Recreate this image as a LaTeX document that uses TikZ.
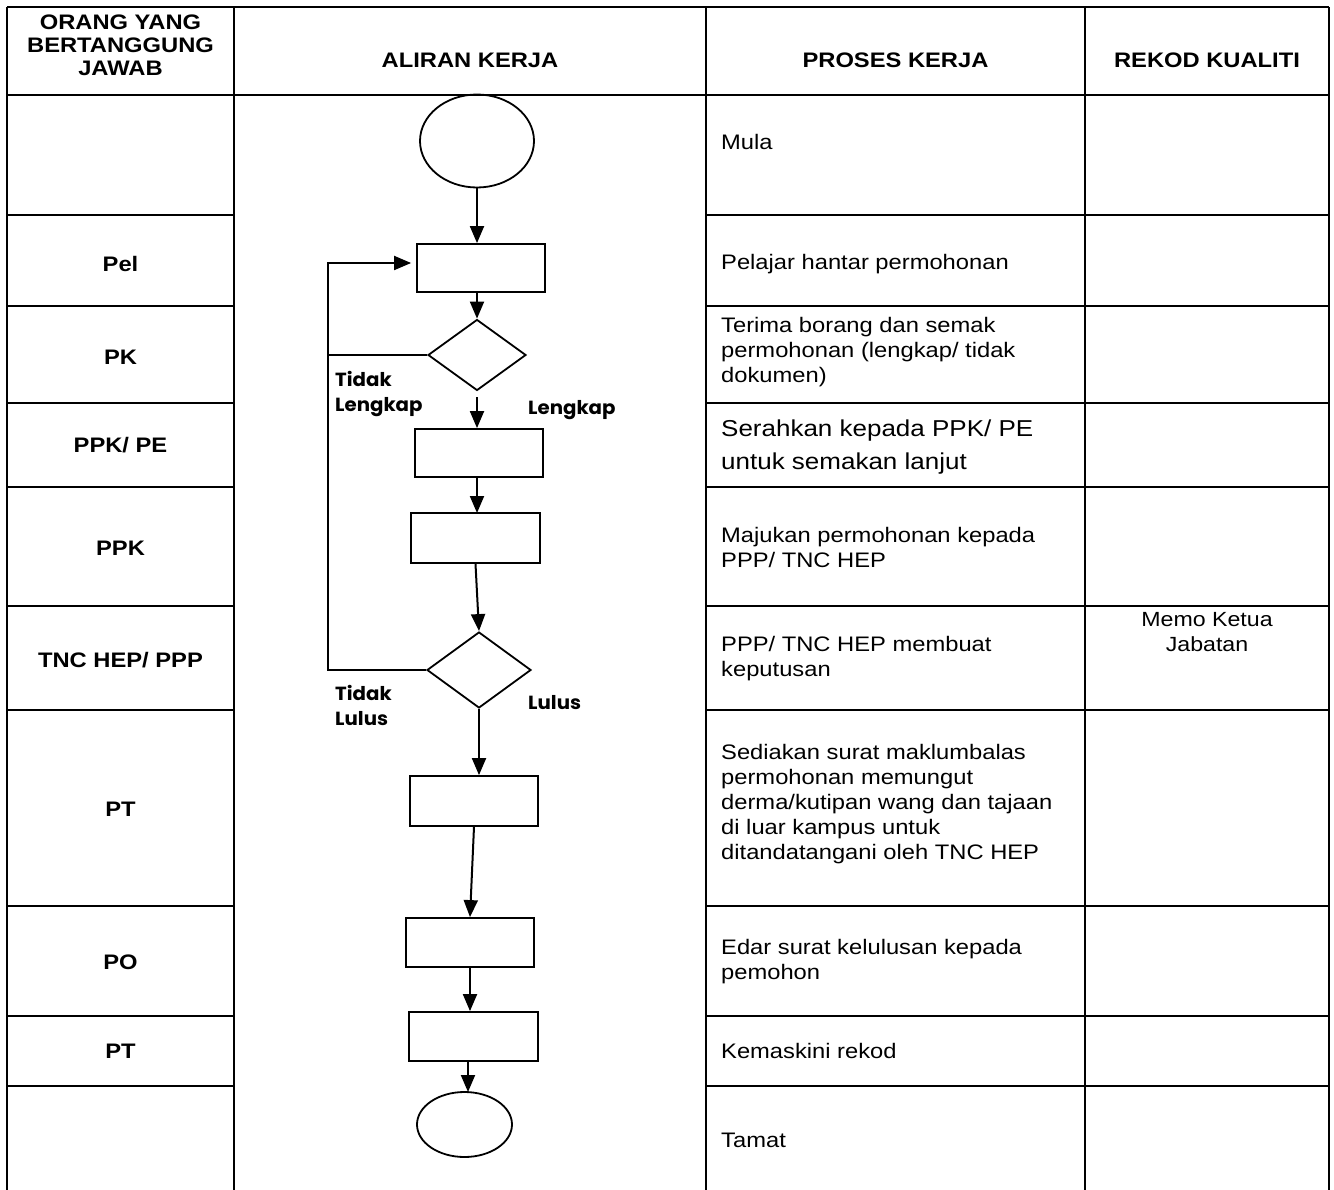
\documentclass[tikz,border=0pt]{standalone}
\usepackage{fontspec}
\setmainfont{Liberation Sans}[FakeStretch=1.13]
\newfontfamily\lblfont{Poppins}[FakeStretch=1.04]
\usetikzlibrary{shapes.geometric,arrows.meta}
\tikzset{
  tline/.style={line width=2.6pt},
  flow/.style={line width=2pt},
  arr/.style={line width=2pt,-{Triangle[width=14pt,length=17pt]}},
  fbox/.style={draw,rectangle,line width=1.8pt,minimum width=128pt,minimum height=48pt,inner sep=0pt},
  fdia/.style={draw,diamond,line width=1.8pt,inner sep=0pt},
  fell/.style={draw,ellipse,line width=1.8pt,inner sep=0pt},
  hdr/.style={font=\bfseries\fontsize{21}{23}\selectfont,align=center},
  who/.style={font=\bfseries\fontsize{21}{25}\selectfont,align=center},
  proc/.style={font=\fontsize{21}{25}\selectfont,align=left,anchor=west,inner sep=0pt},
  lbl/.style={font=\lblfont\bfseries\fontsize{19}{25}\selectfont,align=left,inner sep=0pt}
}
\begin{document}
\begin{tikzpicture}[x=1pt,y=-1pt]
\useasboundingbox (0,0) rectangle (1334,1190);
% table
\draw[tline] (7,7) -- (1329,7);
\draw[tline] (7,95) -- (1329,95);
\foreach \xx in {7,234,706,1085,1329} \draw[tline] (\xx,7) -- (\xx,1190);
\foreach \yy in {215,306,403,487,606,710,906,1016,1086} {
  \draw[tline] (7,\yy) -- (234,\yy);
  \draw[tline] (706,\yy) -- (1329,\yy);
}
% headers
\node[hdr] (h1) at (120.5,45) {ORANG YANG\\BERTANGGUNG\\JAWAB};
\node[hdr] (h2) at (470,60) {ALIRAN KERJA};
\node[hdr] (h3) at (895.5,60) {PROSES KERJA};
\node[hdr] (h4) at (1207,60) {REKOD KUALITI};
% who
\node[who] (w1) at (120.5,264) {Pel};
\node[who] (w2) at (120.5,357) {PK};
\node[who] (w3) at (120.5,445) {PPK/ PE};
\node[who] (w4) at (120.5,548) {PPK};
\node[who] (w5) at (120.5,660) {TNC HEP/ PPP};
\node[who] (w6) at (120.5,809) {PT};
\node[who] (w7) at (120.5,962) {PO};
\node[who] (w8) at (120.5,1051) {PT};
% process
\node[proc] (p1) at (721,142) {Mula};
\node[proc] (p2) at (721,264) {Pelajar hantar permohonan};
\node[proc] (p3) at (721,352) {Terima borang dan semak\\permohonan (lengkap/ tidak\\dokumen)};
\node[proc,font=\fontsize{23}{33}\selectfont] (p4) at (721,447) {Serahkan kepada PPK/ PE\\untuk semakan lanjut};
\node[proc] (p5) at (721,547) {Majukan permohonan kepada\\PPP/ TNC HEP};
\node[proc] (p6) at (721,659) {PPP/ TNC HEP membuat\\keputusan};
\node[proc] (p7) at (721,804) {Sediakan surat maklumbalas\\permohonan memungut\\derma/kutipan wang dan tajaan\\di luar kampus untuk\\ditandatangani oleh TNC HEP};
\node[proc] (p8) at (721,962) {Edar surat kelulusan kepada\\pemohon};
\node[proc] (p9) at (721,1051) {Kemaskini rekod};
\node[proc] (p10) at (721,1140) {Tamat};
\node[who,font=\fontsize{20.5}{25}\selectfont] (r1) at (1207,632) {Memo Ketua\\Jabatan};
% flowchart
\node[fell,minimum width=114pt,minimum height=93pt] (start) at (477,141) {};
\node[fbox] (b1) at (481,268) {};
\node[fdia,minimum width=98pt,minimum height=71pt] (d1) at (477,355) {};
\node[fbox] (b2) at (479,453) {};
\node[fbox,minimum width=129pt,minimum height=50pt] (b3) at (475.5,538) {};
\node[fdia,minimum width=104pt,minimum height=76pt] (d2) at (479,670) {};
\node[fbox,minimum height=50pt] (b4) at (474,801) {};
\node[fbox,minimum height=49pt] (b5) at (470,942.5) {};
\node[fbox,minimum width=129pt,minimum height=49pt] (b6) at (473.5,1036.5) {};
\node[fell,minimum width=95pt,minimum height=65pt] (end) at (464.5,1124.5) {};
\coordinate (c0) at (328,263);
\coordinate (c1) at (328,355);
\coordinate (c2) at (328,670);
\draw[arr] (start.south) -- (start.south |- b1.north);
\draw[arr] (d1.north |- b1.south) -- (d1.north);
\draw[arr,shorten <=6pt] (d1.south) -- (d1.south |- b2.north);
\draw[arr] (477,477) -- (477,513);
\draw[arr] (b3.south) -- (d2.north);
\draw[arr] (d2.south) -- (d2.south |- b4.north);
\draw[arr] (b4.south) -- (b5.north);
\draw[arr] (b5.south) -- (b5.south |- b6.north);
\draw[arr] (468,1061) -- (468,1092);
\draw[flow] (d1.west) -- (c1);
\draw[arr,shorten >=5pt] (d2.west) -- (c2) -- (c0) -- (b1.west |- c0);
% labels
\node[lbl,anchor=north west] (l1) at (335,371) {Tidak\\Lengkap};
\node[lbl,anchor=west] (l2) at (528,410) {Lengkap};
\node[lbl,anchor=north west] (l3) at (335,685) {Tidak\\Lulus};
\node[lbl,anchor=west] (l4) at (528,703) {Lulus};
\end{tikzpicture}
\end{document}
